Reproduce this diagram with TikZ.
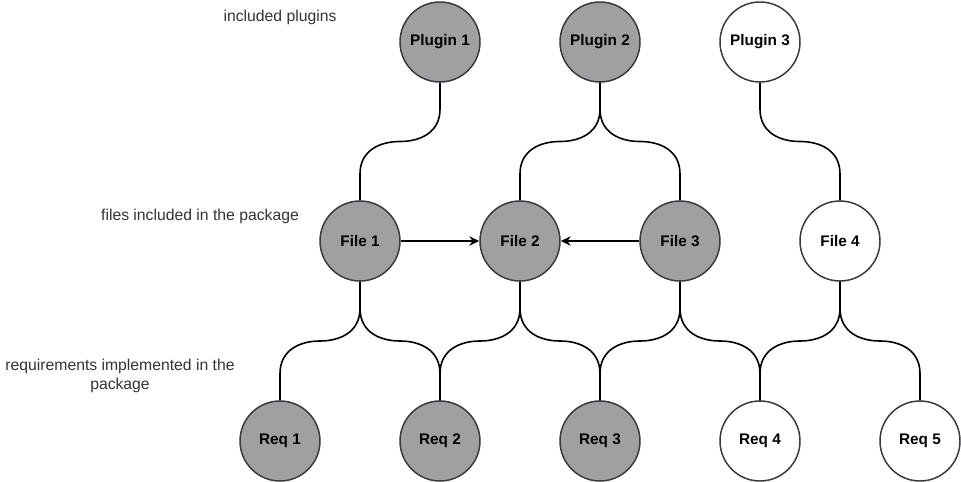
\documentclass[tikz,border=0pt]{standalone}
\usepackage{fontspec}
\setmainfont{Liberation Sans}
\usetikzlibrary{arrows.meta,calc}
\definecolor{nodegray}{HTML}{A0A0A0}
\definecolor{rimgray}{HTML}{36393D}
\definecolor{labelgray}{HTML}{333333}
\tikzset{
  item/.style={circle, draw=rimgray, line width=1.1pt, fill=nodegray, minimum size=60pt, inner sep=0pt, font=\fontsize{11.5pt}{13pt}\selectfont\bfseries},
  outitem/.style={item, fill=white},
  note/.style={font=\fontsize{11.8pt}{14pt}\selectfont, text=labelgray, align=center},
  wire/.style={line width=1.2pt},
  uses/.style={line width=1.2pt, -{Stealth[length=7.5pt,width=7pt,inset=2.5pt]}}
}
% curved orthogonal link from the bottom of #1 to the top of #2
\newcommand{\bendlink}[2]{%
  \draw[wire] let \p1=(#1.south), \p2=(#2.north), \n1={(\y1-\y2)/2} in
    (\p1) -- (\x1,\y1-0.45*\n1)
    .. controls (\x1,\y1-0.85*\n1) and ({(3*\x1+\x2)/4},\y1-\n1) .. ({(\x1+\x2)/2},\y1-\n1)
    .. controls ({(\x1+3*\x2)/4},\y1-\n1) and (\x2,\y2+0.85*\n1) .. (\x2,\y2+0.45*\n1)
    -- (\p2);}
\begin{document}
\begin{tikzpicture}[x=0.75pt, y=-0.75pt]
  \useasboundingbox (0,0) rectangle (961,482);
  % the three rows
  \node[item]    (plug1) at (440,42)  {Plugin 1};
  \node[item]    (plug2) at (600,42)  {Plugin 2};
  \node[outitem] (plug3) at (760,42)  {Plugin 3};
  \node[item]    (file1) at (360,241) {File 1};
  \node[item]    (file2) at (520,241) {File 2};
  \node[item]    (file3) at (680,241) {File 3};
  \node[outitem] (file4) at (840,241) {File 4};
  \node[item]    (req1)  at (280,441) {Req 1};
  \node[item]    (req2)  at (440,441) {Req 2};
  \node[item]    (req3)  at (600,441) {Req 3};
  \node[outitem] (req4)  at (760,441) {Req 4};
  \node[outitem] (req5)  at (920,441) {Req 5};
  % row labels
  \node[note] (plugnote) at (280,17)  {included plugins};
  \node[note] (filenote) at (200,216) {files included in the package};
  \node[note] (reqnote)  at (120,376) {requirements implemented in the\\package};
  % links
  \bendlink{plug1}{file1}
  \bendlink{plug2}{file2}
  \bendlink{plug2}{file3}
  \bendlink{plug3}{file4}
  \bendlink{file1}{req1}
  \bendlink{file1}{req2}
  \bendlink{file2}{req2}
  \bendlink{file2}{req3}
  \bendlink{file3}{req3}
  \bendlink{file3}{req4}
  \bendlink{file4}{req4}
  \bendlink{file4}{req5}
  \draw[uses] (file1) -- (file2);
  \draw[uses] (file3) -- (file2);
\end{tikzpicture}
\end{document}
